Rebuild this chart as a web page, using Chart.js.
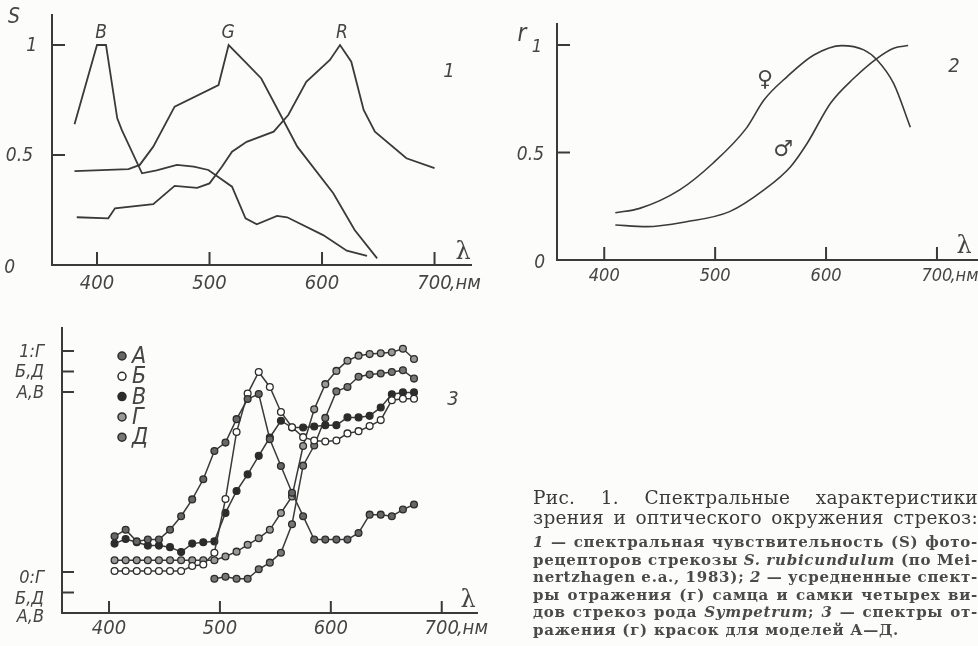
<!DOCTYPE html>
<html lang="ru">
<head>
<meta charset="utf-8">
<title>Рис. 1. Спектральные характеристики</title>
<script src="https://cdn.jsdelivr.net/npm/chart.js@4.4.0/dist/chart.umd.min.js"></script>
<style>
  html, body { margin: 0; padding: 0; background: #fcfcfa; }
  #page { position: relative; width: 978px; height: 646px; overflow: hidden; }
  canvas { position: absolute; left: 0; top: 0; }
  .cap { position: absolute; left: 533px; width: 445px; color: #3a3a3a; }
  .cap div { white-space: nowrap; }
  .big { top: 488px; font: 18.5px/19.5px 'DejaVu Serif', serif; letter-spacing: 0.3px; }
  .small { top: 534px; font: bold 15px/17.5px 'DejaVu Serif', serif; letter-spacing: 0.75px; color: #4a4a4a; }
  .small i { font-weight: bold; }
</style>
</head>
<body>
<div id="page">
  <canvas id="c1" width="978" height="646"></canvas>
  <canvas id="c2" width="978" height="646"></canvas>
  <canvas id="c3" width="978" height="646"></canvas>

  <div class="cap big">
    <div>Рис. 1. Спектральные характеристики</div>
    <div>зрения и оптического окружения стрекоз:</div>
  </div>
  <div class="cap small">
    <div><i>1</i> — спектральная чувствительность (S) фото-</div>
    <div>рецепторов стрекозы <i>S. rubicundulum</i> (по Mei-</div>
    <div>nertzhagen e.a., 1983); <i>2</i> — усредненные спект-</div>
    <div>ры отражения (г) самца и самки четырех ви-</div>
    <div>дов стрекоз рода <i>Sympetrum</i>; <i>3</i> — спектры от-</div>
    <div class="last">ражения (г) красок для моделей А—Д.</div>
  </div>
</div>

<script>
// ---- panel 1: photoreceptor sensitivity S ----
const bWl = [380, 400, 408, 418, 422, 440, 453, 471, 486, 499, 520, 532, 542, 560, 569, 601, 622, 640];
const bS  = [0.64, 1.0, 1.0, 0.667, 0.614, 0.417, 0.43, 0.455, 0.447, 0.432, 0.356, 0.212, 0.185, 0.223, 0.217, 0.136, 0.065, 0.041];
const gWl = [380, 428, 438, 450, 469, 508, 517, 533, 546, 564, 578, 610, 629, 649];
const gS  = [0.427, 0.436, 0.455, 0.538, 0.72, 0.818, 1.0, 0.917, 0.848, 0.674, 0.538, 0.326, 0.159, 0.03];
const rWl = [382, 410, 416, 450, 469, 489, 500, 511, 520, 533, 557, 570, 586, 607, 616, 626, 637, 647, 675, 700];
const rS  = [0.217, 0.212, 0.258, 0.277, 0.36, 0.351, 0.371, 0.447, 0.515, 0.56, 0.606, 0.682, 0.833, 0.932, 1.0, 0.924, 0.705, 0.606, 0.485, 0.44];

// ---- panel 2: reflectance r, female / male ----
const fWl = [410, 432, 468, 498, 528, 544, 565, 589, 614, 634, 646, 661, 676];
const fR  = [0.22, 0.24, 0.326, 0.45, 0.612, 0.744, 0.853, 0.953, 0.997, 0.977, 0.93, 0.82, 0.617];
const mWl = [410, 438, 474, 513, 544, 568, 583, 604, 625, 646, 661, 674];
const mR  = [0.163, 0.155, 0.178, 0.225, 0.326, 0.434, 0.543, 0.729, 0.845, 0.938, 0.985, 0.997];

// ---- panel 3: paint reflectance, models А–Д ----
const wl3 = [405, 415, 425, 435, 445, 455, 465, 475, 485, 495, 505, 515, 525, 535,
             545, 555, 565, 575, 585, 595, 605, 615, 625, 635, 645, 655, 665, 675];
const modelA = [0.347, 0.377, 0.324, 0.332, 0.332, 0.377, 0.438, 0.514, 0.605, 0.733, 0.771, 0.877, 0.968, 0.991,
                0.786, 0.665, 0.544, 0.438, 0.332, 0.332, 0.332, 0.332, 0.362, 0.445, 0.445, 0.438, 0.468, 0.491];
const modelB = [0.097, 0.097, 0.097, 0.097, 0.097, 0.097, 0.097, 0.12, 0.127, 0.18, 0.423, 0.726, 0.9, 0.998,
                0.93, 0.817, 0.748, 0.703, 0.688, 0.683, 0.688, 0.72, 0.73, 0.753, 0.78, 0.87, 0.877, 0.877];
const modelV = [0.314, 0.335, 0.32, 0.305, 0.305, 0.298, 0.276, 0.314, 0.32, 0.324, 0.453, 0.552, 0.627, 0.711,
                0.794, 0.87, 0.839, 0.839, 0.844, 0.85, 0.85, 0.885, 0.885, 0.892, 0.93, 0.99, 0.998, 0.998];
const modelG = [0.053, 0.053, 0.053, 0.053, 0.053, 0.053, 0.053, 0.053, 0.053, 0.053, 0.07, 0.092, 0.123, 0.153,
                0.191, 0.267, 0.342, 0.57, 0.736, 0.85, 0.91, 0.956, 0.979, 0.986, 0.99, 0.994, 1.01, 0.964];
const modelD = [null, null, null, null, null, null, null, null, null, 0.062, 0.071, 0.062, 0.062, 0.105,
                0.135, 0.18, 0.309, 0.574, 0.665, 0.79, 0.91, 0.93, 0.976, 0.986, 0.991, 0.998, 1.006, 0.968];
const modelNames = ['А', 'Б', 'В', 'Г', 'Д'];

const xTickValues = [400, 500, 600, 700];

const INK = '#3a3a3a';
const LABEL = '#454545';
const ITAL = "'DejaVu Sans Condensed', 'Liberation Sans Narrow', 'Liberation Sans', sans-serif";

function pts(xs, ys) {
    return xs.map((x, i) => ({ x: x, y: ys[i] }));
}

// draws the axis lines, inward ticks and all the labels of a panel
const inkPlugin = {
    id: 'ink',
    afterDraw(chart, args, o) {
        const ctx = chart.ctx;
        const a = chart.chartArea;
        const xs = chart.scales.x;
        ctx.save();
        ctx.strokeStyle = INK;
        ctx.lineWidth = 2;
        ctx.beginPath();
        ctx.moveTo(a.left, a.top);
        ctx.lineTo(a.left, a.bottom);
        ctx.lineTo(a.right, a.bottom);
        ctx.stroke();

        ctx.beginPath();
        xTickValues.forEach(v => {
            const p = xs.getPixelForValue(v);
            ctx.moveTo(p, a.bottom);
            ctx.lineTo(p, a.bottom - o.tickLen);
        });
        o.yTicks.forEach(t => {
            const p = chart.scales[t.axis].getPixelForValue(t.value);
            ctx.moveTo(a.left, p);
            ctx.lineTo(a.left + o.tickLen, p);
        });
        ctx.stroke();

        ctx.fillStyle = LABEL;
        ctx.textBaseline = 'middle';
        ctx.font = 'italic ' + (o.xLabelSize || 20) + 'px ' + ITAL;
        xTickValues.forEach(v => {
            const p = xs.getPixelForValue(v);
            ctx.textAlign = 'center';
            ctx.fillText(String(v), p, a.bottom + o.xLabelDy);
            if (v === 700) {
                const w = ctx.measureText('700').width;
                ctx.textAlign = 'left';
                ctx.fillText(',нм', p + w / 2 - 2, a.bottom + o.xLabelDy);
            }
        });
        ctx.textAlign = 'right';
        o.yLabels.forEach(t => {
            ctx.font = 'italic ' + (t.size || 19) + 'px ' + ITAL;
            const p = chart.scales[t.axis].getPixelForValue(t.value);
            ctx.fillText(t.text, a.left - t.dx, p + (t.dy || 0));
        });
        o.texts.forEach(t => {
            ctx.font = t.font;
            ctx.textAlign = 'center';
            ctx.fillText(t.text, t.x, t.y);
        });
        if (o.legend) {
            chart.data.datasets.forEach((ds, i) => {
                const y = o.legend.y + i * o.legend.step;
                ctx.beginPath();
                ctx.arc(o.legend.x, y, 4, 0, Math.PI * 2);
                ctx.fillStyle = ds.pointBackgroundColor;
                ctx.fill();
                ctx.lineWidth = 1.5;
                ctx.strokeStyle = ds.pointBorderColor;
                ctx.stroke();
                ctx.fillStyle = LABEL;
                ctx.font = 'italic 23px ' + ITAL;
                ctx.textAlign = 'left';
                ctx.fillText(ds.label, o.legend.x + 10, y + 1);
            });
        }
        ctx.restore();
    }
};

function lineSet(label, data, extra) {
    return Object.assign({
        label: label,
        data: data,
        borderColor: INK,
        borderWidth: 1.8,
        pointRadius: 0,
        fill: false
    }, extra || {});
}

function makeOptions(pad, xMin, xMax, yScales, ink) {
    const scales = { x: { type: 'linear', min: xMin, max: xMax, display: false } };
    Object.keys(yScales).forEach(k => {
        scales[k] = { type: 'linear', min: yScales[k][0], max: yScales[k][1], display: false };
    });
    return {
        responsive: false,
        animation: false,
        events: [],
        layout: { padding: pad },
        plugins: { legend: { display: false }, tooltip: { enabled: false }, ink: ink },
        scales: scales
    };
}

// panel 1
new Chart(document.getElementById('c1'), {
    type: 'line',
    data: {
        datasets: [
            lineSet('B', pts(bWl, bS)),
            lineSet('G', pts(gWl, gS)),
            lineSet('R', pts(rWl, rS))
        ]
    },
    options: makeOptions({ left: 52, top: 14, right: 506, bottom: 381 }, 360, 733.3,
        { y: [0, 1.141] },
        {
            tickLen: 13, xLabelDy: 19,
            yTicks: [{ axis: 'y', value: 1 }, { axis: 'y', value: 0.5 }],
            yLabels: [
                { axis: 'y', value: 1, text: '1', dx: 15, dy: 1 },
                { axis: 'y', value: 0.5, text: '0.5', dx: 19, dy: 1 },
                { axis: 'y', value: 0, text: '0', dx: 37, dy: 3 }
            ],
            texts: [
                { text: 'S', x: 14, y: 18, font: 'italic 21px ' + ITAL },
                { text: 'B', x: 101, y: 33, font: 'italic 19px ' + ITAL },
                { text: 'G', x: 228, y: 33, font: 'italic 19px ' + ITAL },
                { text: 'R', x: 342, y: 33, font: 'italic 19px ' + ITAL },
                { text: '1', x: 449, y: 72, font: 'italic 20px ' + ITAL },
                { text: 'λ', x: 463, y: 253, font: '24px DejaVu Serif' }
            ]
        }),
    plugins: [inkPlugin]
});

// panel 2
const smooth = { cubicInterpolationMode: 'monotone', borderWidth: 1.6 };
new Chart(document.getElementById('c2'), {
    type: 'line',
    data: {
        datasets: [
            lineSet('♀', pts(fWl, fR), smooth),
            lineSet('♂', pts(mWl, mR), smooth)
        ]
    },
    options: makeOptions({ left: 557, top: 23, right: 0, bottom: 386 }, 357.4, 737,
        { y: [0, 1.102] },
        {
            tickLen: 13, xLabelDy: 16, xLabelSize: 18,
            yTicks: [{ axis: 'y', value: 1 }, { axis: 'y', value: 0.5 }],
            yLabels: [
                { axis: 'y', value: 1, text: '1', dx: 15, dy: 2, size: 18 },
                { axis: 'y', value: 0.5, text: '0.5', dx: 13, dy: 3 },
                { axis: 'y', value: 0, text: '0', dx: 12, dy: 3 }
            ],
            texts: [
                { text: 'r', x: 522, y: 35, font: 'italic 24px ' + ITAL },
                { text: '2', x: 954, y: 67, font: 'italic 20px ' + ITAL },
                { text: 'λ', x: 964, y: 247, font: '24px DejaVu Serif' },
                { text: '♀', x: 765, y: 80, font: '22px DejaVu Sans' },
                { text: '♂', x: 783, y: 150, font: 'bold 22px DejaVu Sans' }
            ]
        }),
    plugins: [inkPlugin]
});

// panel 3 — each pair of models has its own zero/one level on the y axis
const marker = { borderWidth: 1.5, pointRadius: 3.4, pointBorderWidth: 1.3, pointBorderColor: '#2c2c2c' };
new Chart(document.getElementById('c3'), {
    type: 'line',
    data: {
        datasets: [
            lineSet(modelNames[0], pts(wl3, modelA), Object.assign({ yAxisID: 'yAV', pointBackgroundColor: '#666' }, marker)),
            lineSet(modelNames[1], pts(wl3, modelB), Object.assign({ yAxisID: 'yBD', pointBackgroundColor: '#fff' }, marker)),
            lineSet(modelNames[2], pts(wl3, modelV), Object.assign({ yAxisID: 'yAV', pointBackgroundColor: '#2c2c2c' }, marker)),
            lineSet(modelNames[3], pts(wl3, modelG), Object.assign({ yAxisID: 'yG', pointBackgroundColor: '#999' }, marker)),
            lineSet(modelNames[4], pts(wl3, modelD), Object.assign({ yAxisID: 'yBD', pointBackgroundColor: '#777' }, marker))
        ]
    },
    options: makeOptions({ left: 62, top: 327, right: 500, bottom: 33 }, 357.6, 732.7,
        { yAV: [0, 1.294], yBD: [-0.0928, 1.2014], yG: [-0.1855, 1.1086] },
        {
            tickLen: 12, xLabelDy: 16,
            yTicks: [
                { axis: 'yG', value: 1 }, { axis: 'yBD', value: 1 }, { axis: 'yAV', value: 1 },
                { axis: 'yG', value: 0 }, { axis: 'yBD', value: 0 }
            ],
            yLabels: [
                { axis: 'yG', value: 1, text: '1:Г', dx: 18, dy: 1, size: 18 },
                { axis: 'yBD', value: 1, text: 'Б,Д', dx: 18, dy: 1, size: 18 },
                { axis: 'yAV', value: 1, text: 'А,В', dx: 18, dy: 1, size: 18 },
                { axis: 'yG', value: 0, text: '0:Г', dx: 18, dy: 6, size: 18 },
                { axis: 'yBD', value: 0, text: 'Б,Д', dx: 18, dy: 7, size: 18 },
                { axis: 'yAV', value: 0, text: 'А,В', dx: 18, dy: 4, size: 18 }
            ],
            texts: [
                { text: '3', x: 453, y: 400, font: 'italic 20px ' + ITAL },
                { text: 'λ', x: 468, y: 601, font: '24px DejaVu Serif' }
            ],
            legend: { x: 122, y: 356, step: 20.3 }
        }),
    plugins: [inkPlugin]
});

// justify every caption line except the last one to the column width
document.querySelectorAll('.cap div').forEach(line => {
    if (line.classList.contains('last')) return;
    const range = document.createRange();
    range.selectNodeContents(line);
    const natural = range.getBoundingClientRect().width;
    const gaps = line.textContent.trim().split(/\s+/).length - 1;
    if (gaps > 0) line.style.wordSpacing = ((445 - natural) / gaps) + 'px';
});
</script>
</body>
</html>
